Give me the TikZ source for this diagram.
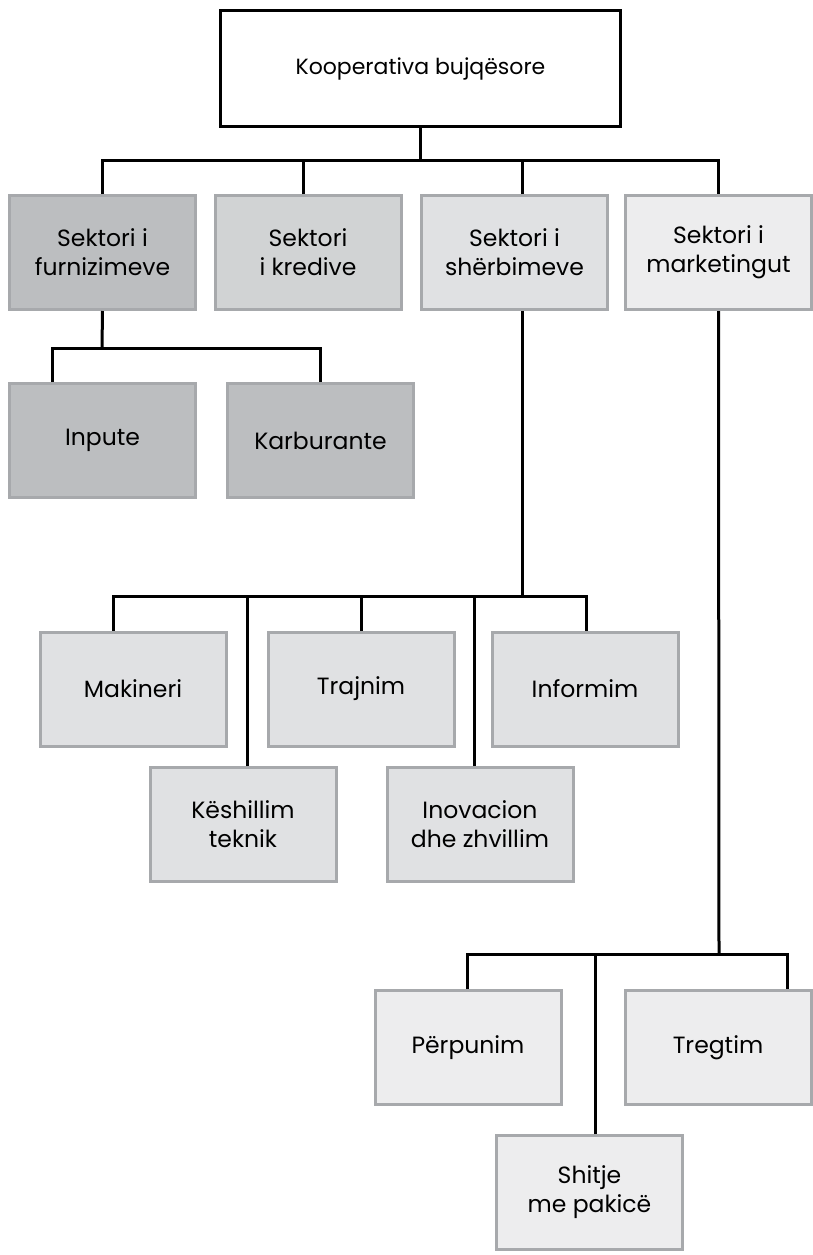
\documentclass[tikz,border=0pt]{standalone}
\usepackage{fontspec}
\setmainfont{Poppins}
\definecolor{gA}{HTML}{BCBEC0}
\definecolor{gB}{HTML}{D1D3D4}
\definecolor{gC}{HTML}{E0E1E3}
\definecolor{gD}{HTML}{EDEDEE}
\definecolor{bord}{HTML}{A7A9AC}
\tikzset{
  box/.style={draw=bord, line width=3pt, rectangle, minimum width=186pt, minimum height=114pt,
    align=center, inner sep=0pt, font=\fontsize{23.5}{29}\selectfont, text=black},
  topbox/.style={draw=black, line width=3.5pt, fill=white, rectangle, minimum width=400pt, minimum height=116pt,
    align=center, inner sep=0pt, font=\fontsize{22}{29}\selectfont},
  conn/.style={draw=black, line width=3pt}
}
\begin{document}
\begin{tikzpicture}[x=1pt,y=-1pt]
\useasboundingbox (0,0) rectangle (813,1255);
\fill[white] (0,0) rectangle (813,1255);
% nodes
\node[topbox] (top) at (420.5,68.5) {Kooperativa bujqësore};
\node[box, fill=gA] (furn) at (102.5,252.5) {Sektori i\\furnizimeve};
\node[box, fill=gB] (kred) at (308,252.5) {Sektori\\i kredive};
\node[box, fill=gC] (serv) at (514.5,252.5) {Sektori i\\shërbimeve};
\node[box, fill=gD] (mark) at (718.5,252.5) {Sektori i\\marketingut};
\node[box, fill=gA] (inp) at (102.5,440.5) {Inpute};
\node[box, fill=gA] (karb) at (320.5,440.5) {Karburante};
\node[box, fill=gC] (mak) at (133,689) {Makineri};
\node[box, fill=gC] (traj) at (361,689) {Trajnim};
\node[box, fill=gC] (info) at (585,689) {Informim};
\node[box, fill=gC] (kesh) at (243,824.5) {Këshillim\\teknik};
\node[box, fill=gC] (inov) at (480,824.5) {Inovacion\\dhe zhvillim};
\node[box, fill=gD] (perp) at (468,1047.5) {Përpunim};
\node[box, fill=gD] (treg) at (718,1047.5) {Tregtim};
\node[box, fill=gD] (shit) at (589.5,1192.5) {Shitje\\me pakicë};
% junction coordinates
\coordinate (j0) at (420.5,160);
\coordinate (j1) at (102,348);
\coordinate (j2) at (522,596);
\coordinate (j3) at (719,954);
% level 1
\draw[conn] (top.south) -- (j0);
\draw[conn] (furn.north) -- (furn.north |- j0) -- (mark.north |- j0) -- (mark.north);
\draw[conn] ([xshift=-5pt]kred.north) -- ([xshift=-5pt]kred.north |- j0);
\draw[conn] ([xshift=7.5pt]serv.north) -- ([xshift=7.5pt]serv.north |- j0);
% furnizime
\draw[conn] (furn.south) -- (j1);
\draw[conn] ([xshift=-50.5pt]inp.north) -- ([xshift=-50.5pt]inp.north |- j1) -- (karb.north |- j1) -- (karb.north);
% services
\draw[conn] ([xshift=7.5pt]serv.south) -- (j2);
\draw[conn] ([xshift=-20pt]mak.north) -- ([xshift=-20pt]mak.north |- j2) -- ([xshift=1pt]info.north |- j2) -- ([xshift=1pt]info.north);
\draw[conn] (traj.north) -- (traj.north |- j2);
\draw[conn] ([xshift=4pt]kesh.north) -- ([xshift=4pt]kesh.north |- j2);
\draw[conn] ([xshift=-6pt]inov.north) -- ([xshift=-6pt]inov.north |- j2);
% marketing
\draw[conn] (mark.south) -- (j3);
\draw[conn] ([xshift=-1pt]perp.north) -- ([xshift=-1pt]perp.north |- j3) -- ([xshift=69pt]treg.north |- j3) -- ([xshift=69pt]treg.north);
\draw[conn] ([xshift=5.5pt]shit.north) -- ([xshift=5.5pt]shit.north |- j3);
\end{tikzpicture}
\end{document}
